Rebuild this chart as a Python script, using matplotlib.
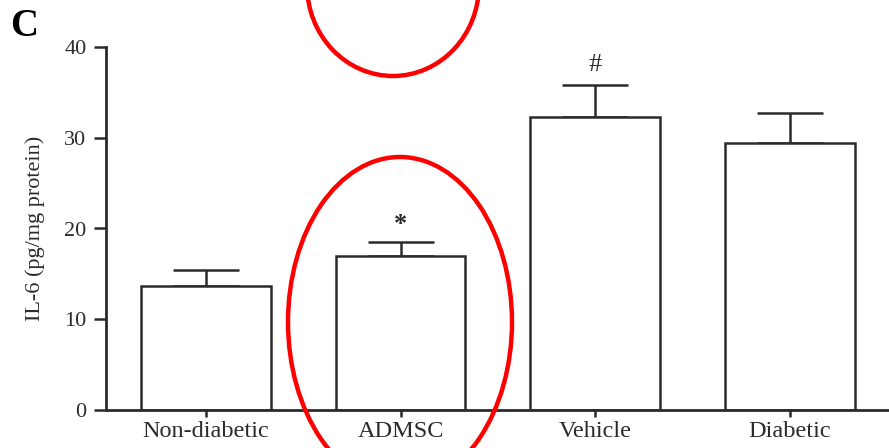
import matplotlib.pyplot as plt
from matplotlib.patches import Ellipse

# data
groups = ['Non-diabetic', 'ADMSC', 'Vehicle', 'Diabetic']
means = [13.7, 17.0, 32.3, 29.4]
errs = [1.7, 1.5, 3.5, 3.3]
marks = ['', '*', '#', '']
mark_y = [0, 20.4, 38.0, 0]

plt.rcParams['font.family'] = ['Liberation Serif', 'DejaVu Serif']
ink = '#2b2b2b'

fig = plt.figure(figsize=(8.89, 4.48), dpi=100)
ax = fig.add_axes([106/889, 1-410/448, 1-106/889, (410-47)/448])

x = list(range(len(groups)))
ax.bar(x, means, width=0.667, color='white', edgecolor=ink, linewidth=1.8, zorder=2)
ax.errorbar(x, means, yerr=[[0]*4, errs], fmt='none', ecolor=ink, elinewidth=1.8,
            capsize=24, capthick=1.8, zorder=1)

for i, m in enumerate(marks):
    if m:
        ax.text(x[i], mark_y[i], m, ha='center', va='center', fontsize=19,
                color=ink, fontweight='bold' if m == '*' else 'normal')

ax.set_xlim(-0.514, 3.51)
ax.set_ylim(0, 40)
ax.set_yticks([0, 10, 20, 30, 40])
ax.set_xticks(x)
ax.set_xticklabels(groups, fontsize=17.5, color=ink)
ax.tick_params(axis='y', labelsize=16, colors=ink, length=9, width=1.8, pad=5)
ax.tick_params(axis='x', length=5, width=1.8, colors=ink, pad=3)
for s in ['top', 'right']:
    ax.spines[s].set_visible(False)
for s in ['left', 'bottom']:
    ax.spines[s].set_linewidth(2)
    ax.spines[s].set_color(ink)
ax.set_ylabel('IL-6 (pg/mg protein)', fontsize=16, color=ink, labelpad=14)

fig.text(10/889, 1-26/448, 'C', fontsize=28, fontweight='bold', va='center', ha='left')

# red annotation ellipses, in pixel space
def px_ellipse(cx, cy, w, h):
    e = Ellipse((cx/889, 1-cy/448), w/889, h/448, transform=fig.transFigure,
                fill=False, edgecolor='#ff0000', linewidth=3.2, clip_on=False)
    fig.patches.append(e)

px_ellipse(393, -15, 172, 182)
px_ellipse(400, 322, 224, 330)

fig.savefig('out.png', dpi=100)
